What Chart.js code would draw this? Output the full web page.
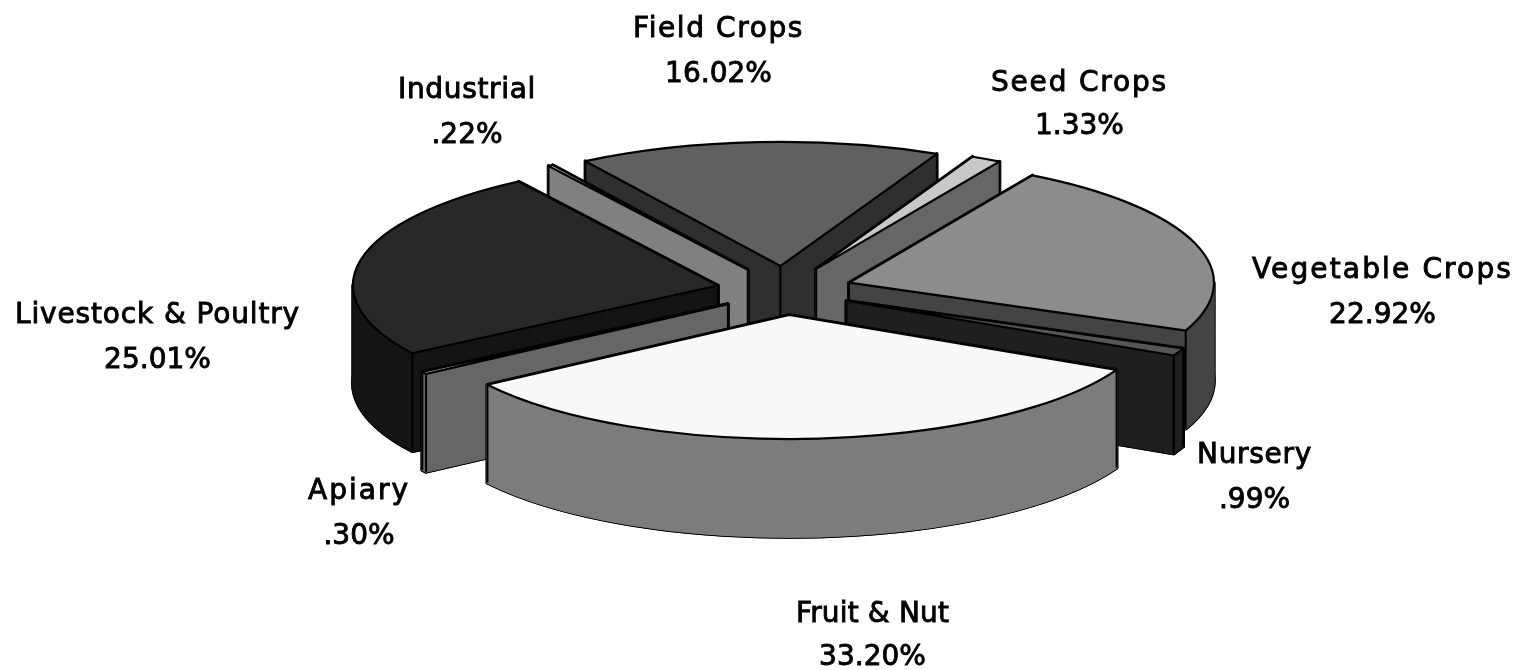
<!DOCTYPE html>
<html>
<head>
<meta charset="utf-8">
<title>Crop value share</title>
<script src="https://cdn.jsdelivr.net/npm/chart.js@4"></script>
<style>
    html, body { margin: 0; padding: 0; background: #fff; }
    canvas { display: block; }
</style>
</head>
<body>
<canvas id="pieChart" width="1522" height="670"></canvas>
<script>
// Values, clockwise starting with Field Crops
const categories = ['Field Crops', 'Seed Crops', 'Vegetable Crops', 'Nursery', 'Fruit & Nut', 'Apiary', 'Livestock & Poultry', 'Industrial'];
const shares = [16.02, 1.33, 22.92, 0.99, 33.20, 0.30, 25.01, 0.22];
const shareLabels = ['16.02%', '1.33%', '22.92%', '.99%', '33.20%', '.30%', '25.01%', '.22%'];
const topColors = ['#606060', '#c8c8c8', '#8c8c8c', '#555555', '#f8f8f8', '#ffffff', '#282828', '#ffffff'];
const wallColors = ['#2f2f2f', '#666666', '#444444', '#1f1f1f', '#7c7c7c', '#666666', '#141414', '#808080'];
// Label anchors: centre x, baseline of the name, baseline of the percentage, width of the name
const labelAnchors = [[718.5, 37, 82, 171], [1079.5, 91, 134, 177], [1382.5, 278, 323, 261], [1254.5, 463, 508, 115], [872.5, 622, 665, 153], [359, 499, 544, 102], [157.5, 323, 368, 285], [467, 98, 143, 138]];

const TILT = 0.34;          // vertical squash of the pie
const EXPLODE_TILT = 0.36;  // same for the explode distance
const DEPTH = 98;           // height of the extruded slices

// Where the slice sits on screen after explode and tilt
function sliceGeometry(arc) {
    const p = arc.getProps(['x', 'y', 'startAngle', 'endAngle', 'outerRadius'], true);
    const mid = (p.startAngle + p.endAngle) / 2;
    const off = arc.options.offset;
    const x = p.x + Math.cos(mid) * off;
    const y = p.y + Math.sin(mid) * off * EXPLODE_TILT;
    return {
        x: x,
        y: y,
        r: p.outerRadius,
        start: p.startAngle,
        end: p.endAngle,
        mid: mid,
        startX: x + Math.cos(p.startAngle) * p.outerRadius,
        startY: y + Math.sin(p.startAngle) * p.outerRadius * TILT,
        endX: x + Math.cos(p.endAngle) * p.outerRadius,
        endY: y + Math.sin(p.endAngle) * p.outerRadius * TILT
    };
}

function slicePath(ctx, g, dy) {
    ctx.beginPath();
    ctx.moveTo(g.x, g.y + dy);
    ctx.ellipse(g.x, g.y + dy, g.r, g.r * TILT, 0, g.start, g.end);
    ctx.closePath();
}

function quadPath(ctx, x1, y1, x2, y2) {
    ctx.beginPath();
    ctx.moveTo(x1, y1);
    ctx.lineTo(x2, y2);
    ctx.lineTo(x2, y2 + DEPTH);
    ctx.lineTo(x1, y1 + DEPTH);
    ctx.closePath();
}

// rim, only the part on the front half of the ellipse
function bandPath(ctx, g, lo, hi) {
    ctx.beginPath();
    ctx.ellipse(g.x, g.y, g.r, g.r * TILT, 0, lo, hi);
    ctx.ellipse(g.x, g.y + DEPTH, g.r, g.r * TILT, 0, hi, lo, true);
    ctx.closePath();
}

function verticalEdge(ctx, x, y) {
    ctx.beginPath();
    ctx.moveTo(x, y);
    ctx.lineTo(x, y + DEPTH);
    ctx.stroke();
}

function drawSlice(ctx, arc, i) {
    const g = sliceGeometry(arc);
    ctx.lineJoin = 'round';

    // the block is made of floor, two cut faces and the rim
    const pieces = [
        function() { slicePath(ctx, g, DEPTH); },
        function() { quadPath(ctx, g.x, g.y, g.startX, g.startY); },
        function() { quadPath(ctx, g.x, g.y, g.endX, g.endY); }
    ];
    const lo = Math.max(g.start, 0);
    const hi = Math.min(g.end, Math.PI);
    if (lo < hi) pieces.push(function() { bandPath(ctx, g, lo, hi); });

    // black silhouette first, then the wall colour over it
    ctx.strokeStyle = '#000';
    ctx.lineWidth = 3.5;
    pieces.forEach(function(p) { p(); ctx.stroke(); });
    ctx.strokeStyle = wallColors[i];
    ctx.fillStyle = wallColors[i];
    ctx.lineWidth = 1.5;
    pieces.forEach(function(p) { p(); ctx.fill(); ctx.stroke(); });

    // vertical edges between faces, only the ones facing the viewer
    ctx.strokeStyle = '#000';
    ctx.lineWidth = 2;
    const startFace = Math.cos(g.start) < 0;
    const endFace = Math.cos(g.end) > 0;
    if (startFace || endFace) verticalEdge(ctx, g.x, g.y);
    if (startFace || Math.sin(g.start) > 0) verticalEdge(ctx, g.startX, g.startY);
    if (endFace || Math.sin(g.end) > 0) verticalEdge(ctx, g.endX, g.endY);

    // top face
    slicePath(ctx, g, 0);
    ctx.fillStyle = topColors[i];
    ctx.fill();
    ctx.lineWidth = 2.2;
    ctx.stroke();
}

const tiltedPie = {
    id: 'tiltedPie',
    beforeDatasetDraw(chart, args) {
        const ctx = chart.ctx;
        const arcs = args.meta.data;
        // back to front
        const order = arcs.map((a, i) => i).sort(function(a, b) {
            return Math.sin(sliceGeometry(arcs[a]).mid) - Math.sin(sliceGeometry(arcs[b]).mid);
        });
        ctx.save();
        order.forEach(function(i) { drawSlice(ctx, arcs[i], i); });
        ctx.restore();
        return false; // the flat pie itself is not wanted
    },
    afterDraw(chart) {
        const ctx = chart.ctx;
        ctx.save();
        ctx.fillStyle = '#000';
        ctx.strokeStyle = '#000';
        ctx.lineWidth = 0.9;
        ctx.font = '28px "DejaVu Sans"';
        ctx.textAlign = 'center';
        ctx.textBaseline = 'alphabetic';
        categories.forEach(function(name, i) {
            const a = labelAnchors[i];
            // the original face is wider than DejaVu on some words
            ctx.letterSpacing = '0px';
            const spare = a[3] - ctx.measureText(name).width;
            ctx.letterSpacing = (spare / name.length).toFixed(2) + 'px';
            ctx.fillText(name, a[0], a[1]);
            ctx.strokeText(name, a[0], a[1]);
            ctx.letterSpacing = '0px';
            ctx.fillText(shareLabels[i], a[0], a[2]);
            ctx.strokeText(shareLabels[i], a[0], a[2]);
        });
        ctx.restore();
    }
};

new Chart(document.getElementById('pieChart').getContext('2d'), {
    type: 'pie',
    data: {
        labels: categories,
        datasets: [{
            data: shares,
            backgroundColor: topColors,
            borderWidth: 0,
            offset: 68,
            radius: 365
        }]
    },
    options: {
        responsive: false,
        animation: false,
        rotation: -32.3,
        layout: { padding: { left: 47, bottom: 89 } },
        plugins: { legend: { display: false }, tooltip: { enabled: false } }
    },
    plugins: [tiltedPie]
});
</script>
</body>
</html>
